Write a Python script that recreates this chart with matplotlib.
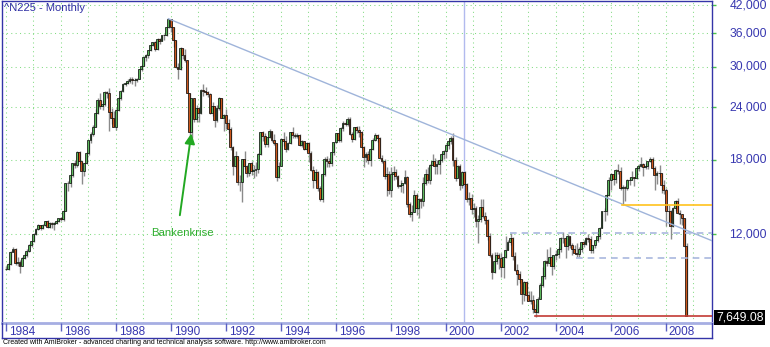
import matplotlib
matplotlib.use('Agg')
import matplotlib.pyplot as plt
import matplotlib.transforms as mtransforms
from matplotlib.ticker import FixedLocator, NullLocator, NullFormatter
import numpy as np

plt.rcParams['font.family'] = ['Liberation Sans', 'DejaVu Sans']

# ^N225 monthly bars, Jan 1984 .. Oct 2008 (open = previous close)
first_open = 9893
closes = [
    9920, 10160, 10880, 11080, 10250, 10290, 10100, 10550, 10700, 10950, 11280, 11543,   # 1984
    11992, 12322, 12580, 12426, 12620, 12880, 12470, 12760, 12700, 12750, 12900, 13113,  # 1985
    13024, 13640, 15860, 15830, 16600, 17650, 17500, 18820, 17852, 16910, 17650, 18701,  # 1986
    20048, 20770, 21567, 23275, 25000, 24176, 24488, 26030, 26011, 23329, 22687, 21564,  # 1987
    23622, 25242, 26260, 27330, 27417, 27769, 28000, 27900, 27923, 28011, 29579, 30159,  # 1988
    31581, 31985, 32839, 33713, 34267, 32948, 34954, 34431, 35637, 35549, 37269, 38916,  # 1989
    37189, 34591, 29980, 29585, 33131, 31940, 31036, 25978, 20984, 25194, 22455, 23849,  # 1990
    23293, 26409, 26292, 26111, 25790, 23291, 24120, 22336, 23916, 25222, 22687, 22984,  # 1991
    22023, 21339, 19346, 17391, 18348, 15952, 15910, 18061, 17399, 16767, 17684, 16925,  # 1992
    17024, 17113, 18591, 20919, 20552, 19590, 20380, 21027, 20106, 19703, 16408, 17417,  # 1993
    20229, 19997, 19112, 19725, 20974, 20644, 20462, 20629, 19564, 19990, 19076, 19723,  # 1994
    18650, 17053, 16140, 16807, 15437, 14517, 16678, 18117, 17913, 17655, 18744, 19868,  # 1995
    20813, 20125, 21407, 22041, 21956, 22531, 20693, 20167, 21556, 21197, 21020, 19361,  # 1996
    18330, 18557, 18003, 19151, 20069, 20605, 20331, 18229, 17888, 16459, 16636, 15259,  # 1997
    16628, 16832, 16527, 15641, 15671, 15830, 16379, 14108, 13406, 13565, 14884, 13842,  # 1998
    14500, 14368, 15837, 16702, 16112, 17530, 17862, 17437, 17605, 17942, 18558, 18934,  # 1999
    19540, 19960, 20337, 17974, 16332, 17411, 15727, 16861, 15747, 14540, 14649, 13786,  # 2000
    13844, 12884, 12999, 13934, 13262, 12969, 11861, 10713, 9775, 10367, 10697, 10543,   # 2001
    9998, 10588, 11025, 11493, 11764, 10622, 9877, 9619, 9383, 8640, 9216, 8579,         # 2002
    8340, 8363, 7973, 7831, 8425, 9083, 9563, 10344, 10219, 10560, 10101, 10677,         # 2003
    10784, 11042, 11715, 11762, 11236, 11859, 11326, 11082, 10824, 10771, 11069, 11489,  # 2004
    11388, 11741, 11669, 11009, 11277, 11584, 11900, 12414, 13574, 13607, 14872, 16111,  # 2005
    16650, 16205, 17060, 16906, 15467, 15505, 15457, 16141, 16128, 16399, 16274, 17226,  # 2006
    17383, 17604, 17288, 17400, 17876, 18138, 17248, 16569, 16786, 16738, 15680, 15308,  # 2007
    13592, 13604, 12526, 13850, 14339, 13481, 13377, 13073, 11260, 7649.08,             # 2008
]
highs = [
    10080, 10290, 10950, 11190, 11130, 10600, 10400, 10600, 10800, 11050, 11350, 11580,
    12100, 12400, 12650, 12620, 12650, 12900, 12950, 12800, 12800, 12800, 12950, 13130,
    13200, 13700, 15900, 16000, 16700, 17700, 18000, 18936, 18900, 17900, 17700, 18800,
    20100, 21000, 21800, 23800, 25200, 25900, 25000, 26200, 26300, 26646, 23900, 23500,
    23800, 25400, 26400, 27400, 27600, 28000, 28300, 28400, 28100, 28200, 29600, 30200,
    31700, 32100, 32900, 33800, 34300, 34400, 35000, 35100, 35700, 35900, 37300, 38957,
    38950, 37300, 34600, 30500, 33300, 33200, 33100, 31100, 26000, 25200, 25300, 24300,
    24100, 26500, 27270, 26800, 26200, 25900, 24700, 24200, 24300, 25400, 25300, 23100,
    23800, 22500, 21500, 19400, 18900, 18400, 16600, 18100, 18900, 17500, 17700, 17900,
    17500, 17800, 18700, 21000, 21100, 20800, 20400, 21281, 21100, 20700, 19700, 17800,
    20300, 21000, 20500, 19900, 21000, 21552, 20900, 20800, 20700, 20100, 20000, 19800,
    19800, 18900, 17400, 17100, 16900, 15600, 16800, 18300, 18400, 18200, 18800, 19900,
    20900, 20900, 21500, 22300, 22300, 22750, 22700, 21000, 21600, 21700, 21700, 21100,
    19400, 18800, 18900, 19200, 20300, 20900, 20700, 20400, 18500, 18100, 17300, 16900,
    17300, 17400, 17100, 16600, 16100, 15900, 17000, 16500, 14300, 14100, 15300, 15000,
    14600, 14600, 16400, 17100, 17300, 17600, 18600, 18200, 18000, 18100, 18700, 19000,
    19600, 20100, 20500, 20833, 18300, 17500, 17600, 16900, 16900, 15900, 15100, 14900,
    14200, 14000, 13300, 14500, 14529, 13500, 13000, 12100, 10800, 10900, 10900, 10800,
    10800, 10600, 11900, 11600, 12081, 11800, 10900, 10200, 9800, 9400, 9300, 9300,
    8800, 8800, 8600, 8200, 8500, 9200, 10000, 10400, 11033, 11200, 10700, 10700,
    11000, 11200, 11800, 12163, 11800, 12000, 11900, 11400, 11300, 11400, 11200, 11500,
    11600, 11800, 12000, 11900, 11300, 11600, 11900, 12500, 13600, 13800, 14900, 16400,
    16800, 16700, 17100, 17563, 17300, 15700, 15600, 16200, 16400, 16900, 16400, 17300,
    17600, 18300, 17700, 17700, 17900, 18297, 18300, 17400, 16900, 17500, 16800, 16100,
    15400, 14100, 13700, 13900, 14489, 14600, 13700, 13400, 13100, 11400,
]
lows = [
    9850, 9880, 10120, 10850, 10150, 10050, 9703, 10060, 10450, 10600, 10900, 11200,
    11500, 11950, 12250, 12300, 12350, 12550, 12400, 12400, 12400, 12300, 12650, 12800,
    12900, 12880, 13600, 15200, 15500, 16400, 17200, 17300, 17600, 15820, 16500, 17600,
    18500, 19700, 20500, 21500, 23200, 23800, 23700, 24200, 25200, 21036, 21900, 21500,
    21200, 23500, 25000, 26100, 27000, 27200, 27400, 27200, 26900, 27500, 28000, 29300,
    30100, 31000, 31500, 32700, 33500, 32600, 32900, 34000, 34400, 34700, 35400, 37000,
    36300, 33300, 29800, 28002, 29400, 31300, 30700, 25900, 20221, 20300, 22200, 22200,
    22100, 23100, 25600, 25700, 25400, 23200, 22900, 21500, 22200, 23700, 22600, 21120,
    21300, 20800, 19000, 16600, 17200, 15700, 15200, 14309, 17100, 16400, 16500, 16600,
    16300, 16500, 16800, 18500, 20000, 19300, 19300, 20300, 19900, 19500, 16078, 16300,
    17400, 19400, 18800, 19000, 19600, 20300, 20300, 20300, 19400, 19300, 19000, 18900,
    17800, 16900, 15400, 15900, 15200, 14400, 14300, 16500, 17300, 17300, 17400, 18500,
    19700, 19800, 19900, 21100, 21700, 21700, 20600, 19800, 20100, 20800, 20400, 19200,
    17300, 17800, 17600, 17400, 19000, 20000, 19800, 18100, 17700, 16200, 14775, 14900,
    14700, 16100, 16200, 15400, 15100, 15000, 15800, 13900, 13200, 12880, 13500, 13300,
    13100, 13800, 14000, 15700, 15900, 15800, 17400, 16700, 16700, 16700, 17800, 18100,
    18200, 19100, 19600, 17400, 16000, 16300, 15300, 15400, 15600, 14300, 14100, 13400,
    13200, 12500, 11433, 12800, 13100, 12700, 11600, 10600, 9382, 9700, 10200, 9900,
    9500, 9420, 10500, 11000, 11300, 10400, 9800, 9075, 9200, 8197, 8300, 8300,
    8300, 8200, 7800, 7607, 7800, 8400, 9000, 9400, 10100, 10100, 9600, 9900,
    10400, 10500, 10900, 11400, 10500, 11000, 11100, 10700, 10800, 10600, 10600, 10900,
    11200, 11300, 11500, 10800, 10800, 11100, 11500, 11700, 12400, 12900, 13300, 14800,
    15300, 15700, 15900, 16700, 15300, 14045, 14400, 15300, 15700, 16100, 15600, 16200,
    16900, 17300, 16500, 17100, 17100, 17800, 17100, 15262, 15800, 16400, 15000, 14900,
    12573, 12700, 11691, 12500, 13600, 13400, 12700, 12600, 11160, 7649.08,
]

# price scale and year labels
price_ticks = [12000, 18000, 24000, 30000, 36000, 42000]
label_years = list(range(1984, 2009, 2))
last_price = 7649.08

# drawn studies
trend_from = ('1989-12', 38957)
trend_through = ('2000-04', 20650)
level_prices = [14045, 12081, 10550, 7649.08]
level_from = ['2006-06', '2002-05', '2004-10', '2003-04']
level_colors = ['#ffc21c', '#a9b8de', '#a9b8de', '#c23a34']
level_styles = ['-', (0, (4, 3)), (0, (4, 3)), '-']
cursor_month = '2000-09'
note_text = 'Bankenkrise'
note_at = ('1990-06', 12080)
arrow_tail = ('1990-05', 13300)
arrow_head = ('1990-10', 20800)


def month_index(ym):
    y, m = ym.split('-')
    return (int(y) - 1984) * 12 + int(m) - 1


W, H = 770, 347
fig = plt.figure(figsize=(W / 100, H / 100), dpi=100)
ax = fig.add_axes([2 / W, 1 - 323 / H, 710 / W, 322 / H])
xlim = (-1.6, 308.2)

idx = np.arange(len(closes))
c = np.array(closes, dtype=float)
o = np.concatenate([[first_open], c[:-1]])
hi = np.array(highs, dtype=float)
lo = np.array(lows, dtype=float)
up = c >= o

ax.set_yscale('log')
ax.set_xlim(*xlim)
ax.set_ylim(7376, 42930)

# grid
ax.xaxis.set_major_locator(FixedLocator([12 * k for k in range(0, 26)]))
ax.yaxis.set_major_locator(FixedLocator(price_ticks))
ax.yaxis.set_minor_locator(NullLocator())
ax.yaxis.set_minor_formatter(NullFormatter())
ax.grid(True, color='#84dc84', linestyle=(0, (1, 3.2)), lw=0.75, zorder=0)
ax.tick_params(axis='x', length=0, labelbottom=False)
ax.tick_params(axis='y', which='major', left=False, right=True, labelleft=False,
               labelright=False, length=3, width=1, color='#4cc44c')

# candles
ax.vlines(idx + 0.3, lo, hi, color='#8a8a8a', lw=1.0, zorder=3)
bottoms = np.minimum(o, c)
tops = np.maximum(o, c)
ax.bar(idx, tops - bottoms, bottom=bottoms, width=0.8,
       color=np.where(up, '#5cb85c', '#cc571c'), edgecolor='black', linewidth=0.5, zorder=4)

# cursor line
ax.axvline(month_index(cursor_month), color='#b2baee', lw=1, zorder=2)

# trend line from the 1989 top through the 2000 top
x0, p0 = month_index(trend_from[0]), trend_from[1]
x1, p1 = month_index(trend_through[0]), trend_through[1]
slope = (np.log(p1) - np.log(p0)) / (x1 - x0)
tx = np.array([x0, xlim[1]])
ax.plot(tx, np.exp(np.log(p0) + slope * (tx - x0)), color='#9fb4da', lw=1, zorder=5)

# horizontal levels
for p, start, col, ls in zip(level_prices, level_from, level_colors, level_styles):
    ax.plot([month_index(start), xlim[1]], [p, p], color=col, ls=ls, lw=1.2, zorder=5)

# annotation
ax.annotate('', xy=(month_index(arrow_head[0]), arrow_head[1]),
            xytext=(month_index(arrow_tail[0]), arrow_tail[1]),
            arrowprops=dict(arrowstyle='-|>,head_length=0.6,head_width=0.3',
                            color='#22a822', lw=1.4, shrinkA=0, shrinkB=0), zorder=6)
ax.text(month_index(note_at[0]), note_at[1], note_text, color='#2eae2e',
        fontsize=8.2, ha='center', va='center', zorder=6)

# right price labels
ytrans = mtransforms.blended_transform_factory(ax.transAxes, ax.transData)
lab_trans = mtransforms.offset_copy(ytrans, fig=fig, x=55, y=0, units='dots')
for v in price_ticks:
    ax.text(1.0, v, f'{v:,}', transform=lab_trans, ha='right', va='center',
            fontsize=8.7, color='#3838b0', clip_on=False)
box_trans = mtransforms.offset_copy(ytrans, fig=fig, x=4, y=-1, units='dots')
ax.text(1.0, last_price, f'{last_price:,.2f}', transform=box_trans, ha='left', va='center',
        fontsize=8.7, color='white', clip_on=False,
        bbox=dict(boxstyle='square,pad=0.15', fc='black', ec='none'))

# frame
for side in ['left', 'top', 'right']:
    ax.spines[side].set_color('#3434a8')
    ax.spines[side].set_linewidth(1)
ax.spines['bottom'].set_color('#a6aee2')
ax.spines['bottom'].set_linewidth(2)

# date strip
dax = fig.add_axes([2 / W, 1 - 338 / H, 710 / W, 15 / H])
dax.set_xlim(*xlim)
dax.set_ylim(0, 1)
dax.set_xticks([])
dax.set_yticks([])
dax.patch.set_alpha(0)
dax.spines['top'].set_visible(False)
for side in ['left', 'right', 'bottom']:
    dax.spines[side].set_color('#3434a8')
    dax.spines[side].set_linewidth(1)
year_pos = [month_index(f'{y}-01') for y in label_years]
dax.vlines(year_pos, 0.5, 1.0, color='#5a60c2', lw=1)
txt_trans = mtransforms.offset_copy(dax.transData, fig=fig, x=3, y=0, units='dots')
for y, xp in zip(label_years, year_pos):
    dax.text(xp, 0.4, str(y), transform=txt_trans, ha='left', va='center',
             fontsize=8.5, color='#3838b0')

fig.text(4 / W, 1 - 8 / H, '^N225 - Monthly', fontsize=8, color='#2e2ea4', ha='left', va='center')
fig.text(3 / W, 1 - 343 / H,
         'Created with AmiBroker - advanced charting and technical analysis software. http://www.amibroker.com',
         fontsize=5, color='black', ha='left', va='center')

fig.savefig('out.png', dpi=100)
